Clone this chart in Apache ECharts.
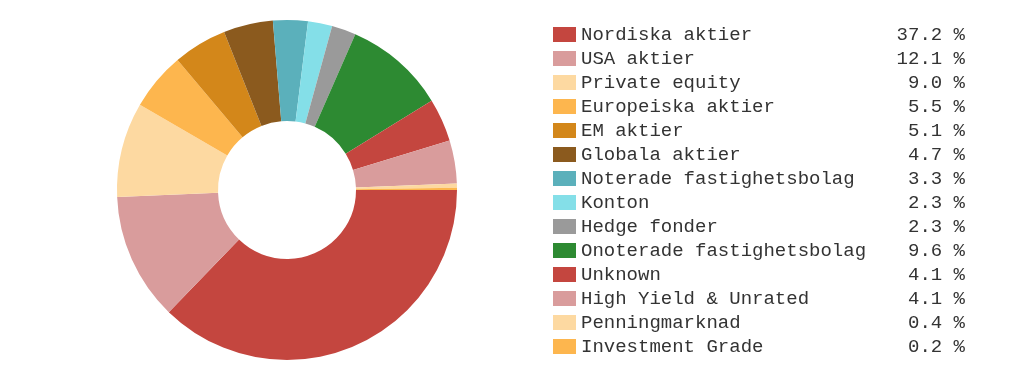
<!DOCTYPE html>
<html>
<head>
<meta charset="utf-8">
<script src="https://cdn.jsdelivr.net/npm/echarts@6/dist/echarts.min.js"></script>
<style>
html,body{margin:0;padding:0;background:#fff;}
#chart{width:1023px;height:382px;}
</style>
</head>
<body>
<div id="chart"></div>
<script>
const categories = ["Nordiska aktier","USA aktier","Private equity","Europeiska aktier","EM aktier","Globala aktier","Noterade fastighetsbolag","Konton","Hedge fonder","Onoterade fastighetsbolag","Unknown","High Yield & Unrated","Penningmarknad","Investment Grade"];
const values = [37.2,12.1,9.0,5.5,5.1,4.7,3.3,2.3,2.3,9.6,4.1,4.1,0.4,0.2];
const colors = ["#c4463f","#d99c9c","#fdd9a1","#fdb64e","#d3871a","#8b5a1e","#5bb0bb","#84dfe8","#9a9a9a","#2d8a32","#c4463f","#d99c9c","#fdd9a1","#fdb64e"];

const valueByName = {};
categories.forEach((c,i)=>{valueByName[c]=values[i];});

const chart = echarts.init(document.getElementById('chart'), null, {renderer:'canvas'});
chart.setOption({
  animation:false,
  color: colors,
  legend:{
    orient:'vertical',
    left:553, top:25,
    padding:0,
    itemWidth:23, itemHeight:15, itemGap:5,
    selectedMode:false,
    icon:'rect',
    data: categories,
    formatter: function(name){
      return '{a|'+name+'}{b|'+valueByName[name].toFixed(1)+' %}';
    },
    textStyle:{
      fontFamily:'"Liberation Mono", "Courier New", monospace',
      fontSize:19, color:'#333',
      rich:{
        a:{width:314, fontFamily:'"Liberation Mono", monospace', fontSize:19, color:'#333'},
        b:{width:70, align:'right', fontFamily:'"Liberation Mono", monospace', fontSize:19, color:'#333'}
      }
    }
  },
  series:[{
    type:'pie',
    center:[287,190],
    radius:[69,170],
    startAngle:0,
    clockwise:true,
    avoidLabelOverlap:false,
    label:{show:false},
    labelLine:{show:false},
    emphasis:{disabled:true},
    itemStyle:{borderWidth:0},
    data: categories.map((c,i)=>({name:c, value:values[i], itemStyle:{color:colors[i]}}))
  }]
});
</script>
</body>
</html>
